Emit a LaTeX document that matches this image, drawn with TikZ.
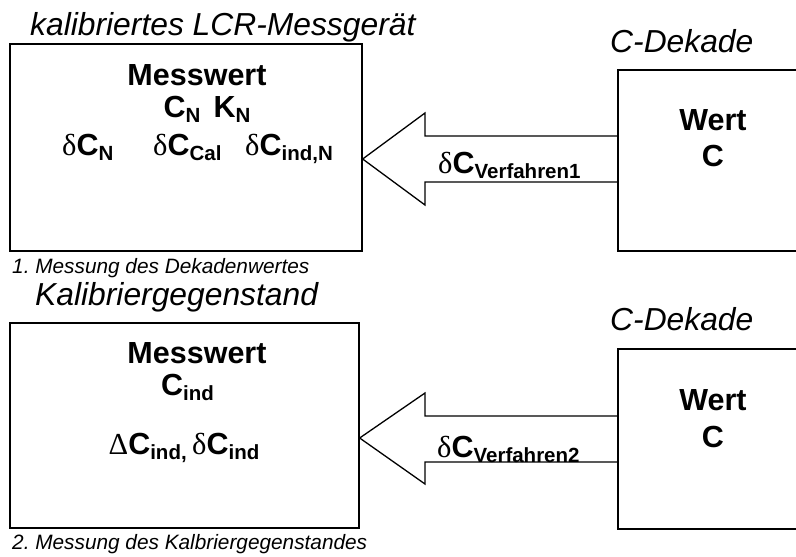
\documentclass[tikz,border=0pt]{standalone}
\usepackage{fontspec}
\setmainfont{Liberation Sans}
\newfontfamily\symf{Liberation Serif}
\newcommand\dd{{\symf\mdseries\upshape δ}}
\newcommand\DD{{\symf\mdseries\upshape Δ}}
\newcommand\sbs[1]{\raisebox{-5pt}{\fontsize{20.5}{20.5}\selectfont\bfseries #1}}
\tikzset{
  box/.style={draw, line width=1.3pt, inner sep=0pt},
  big/.style={font=\fontsize{30.5}{30.5}\selectfont\bfseries, anchor=base, inner sep=0pt},
  lab/.style={font=\fontsize{31.8}{31.8}\selectfont\itshape, anchor=base west, inner sep=0pt},
  small/.style={font=\fontsize{20.8}{20.8}\selectfont\itshape, anchor=base west, inner sep=0pt},
  fat/.style={draw, line width=1.3pt, line join=miter},
}
\begin{document}
\frenchspacing
\begin{tikzpicture}[x=1pt,y=-1pt]
\useasboundingbox (0,0) rectangle (796,557);
\clip (0,0) rectangle (796,557);
\fill[white] (0,0) rectangle (796,557);
% ---------- top ----------
\node[box, minimum width=352pt, minimum height=207pt] (lb1) at (186,147.5) {};
\node[box, minimum width=212pt, minimum height=181pt] (rb1) at (724,160.5) {};
\coordinate (tip1) at (lb1.east |- 0,159);
\draw[fat] (rb1.west |- 0,136) -- (425,136) -- (425,113) -- (tip1) -- (425,205) -- (425,182) -- (rb1.west |- 0,182);
\node[lab] (lab1) at (30,35) {kalibriertes LCR-Messgerät};
\node[lab] (dek1) at (610,52) {C-Dekade};
\node[big] (mw1) at (197,85) {Messwert};
\node[big] (cn1) at (207,117) {C\sbs{N}\hspace{13pt}K\sbs{N}};
\node[big, anchor=base west] (d1) at (62,155) {\dd C\sbs{N}};
\node[big, anchor=base west] (d2) at (153,155) {\dd C\sbs{Cal}};
\node[big, anchor=base west] (d3) at (245,155) {\dd C\sbs{ind,N}};
\node[big] (w1) at (713,130) {Wert};
\node[big] (c1) at (713,166) {C};
\node[big, anchor=base west] (v1) at (438,173) {\dd C\sbs{Verfahren1}};
\node[small] (s1) at (12,273) {1. Messung des Dekadenwertes};
% ---------- bottom ----------
\node[box, minimum width=349pt, minimum height=205pt] (lb2) at (184.5,425.5) {};
\node[box, minimum width=212pt, minimum height=180pt] (rb2) at (724,439) {};
\coordinate (tip2) at (lb2.east |- 0,438);
\draw[fat] (rb2.west |- 0,416) -- (425,416) -- (425,393) -- (tip2) -- (425,484) -- (425,462) -- (rb2.west |- 0,462);
\node[lab] (lab2) at (35,305) {Kalibriergegenstand};
\node[lab] (dek2) at (610,330) {C-Dekade};
\node[big] (mw2) at (197,363) {Messwert};
\node[big] (ci2) at (187.5,395) {C\sbs{ind}};
\node[big] (dc2) at (184,454) {\DD C\sbs{ind,}\hspace{5.5pt}\dd C\sbs{ind}};
\node[big] (w2) at (713,410) {Wert};
\node[big] (c2) at (713,447) {C};
\node[big, anchor=base west] (v2) at (437,457) {\dd C\sbs{Verfahren2}};
\node[small] (s2) at (12,549) {2. Messung des Kalbriergegenstandes};
\end{tikzpicture}
\end{document}
